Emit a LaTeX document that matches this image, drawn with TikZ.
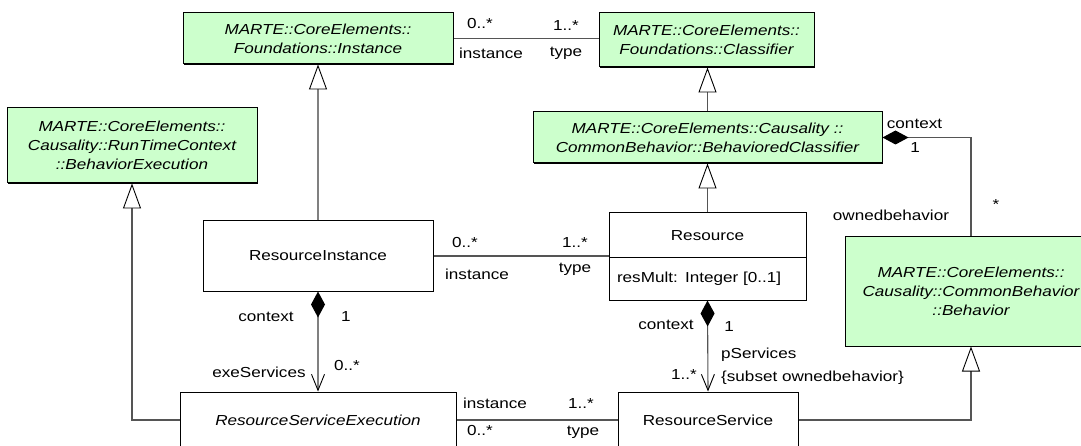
\documentclass[tikz,border=0pt]{standalone}
\usepackage{fontspec}
\setmainfont{Liberation Sans}[FakeStretch=1.18]
\usetikzlibrary{arrows.meta,positioning,calc,shadows}
\definecolor{clrG}{RGB}{204,255,204}
\definecolor{clrL}{RGB}{85,85,85}
\tikzset{
  cls/.style={rectangle,draw=black,line width=1pt,fill=white,align=center,inner sep=2pt,
    drop shadow={shadow xshift=1.3pt,shadow yshift=-1.3pt,fill=black,opacity=1}},
  ext/.style={cls,fill=clrG,font=\fontsize{14.5}{19}\selectfont\itshape},
  lbl/.style={inner sep=1pt},
  assoc/.style={draw=clrL,line width=1.1pt},
  thk/.style={draw=gray,line width=1.7pt},
  gen/.style={-{Triangle[open,fill=white,length=25pt,width=18pt,line width=0.9pt,color=black]}},
  comp/.style={{Diamond[length=26pt,width=14pt,color=black]}-{Straight Barb[length=16pt,width=13pt,line width=0.9pt,color=black]}}
}
\begin{document}
\begin{tikzpicture}[x=1pt,y=-1pt,font=\fontsize{14.5}{19}\selectfont]
  \useasboundingbox (0,0) rectangle (1081,446);
  \clip (0,0) rectangle (1081,446);
  % classes
  \node[ext,minimum width=270pt,minimum height=51pt] (inst) at (318,38.5)
    {MARTE::CoreElements::\\Foundations::Instance};
  \node[ext,minimum width=215pt,minimum height=54pt] (clsf) at (706.5,40)
    {MARTE::CoreElements::\\Foundations::Classifier};
  \node[ext,minimum width=349pt,minimum height=51pt] (bcls) at (707.5,137.5)
    {MARTE::CoreElements::Causality ::\\CommonBehavior::BehavioredClassifier};
  \node[ext,minimum width=250pt,minimum height=75pt] (bexec) at (132,145.5)
    {MARTE::CoreElements::\\Causality::RunTimeContext\\::BehaviorExecution};
  \node[ext,minimum width=252pt,minimum height=109pt] (behv) at (971,291.5)
    {MARTE::CoreElements::\\Causality::CommonBehavior\\::Behavior};
  \node[cls,minimum width=230pt,minimum height=70pt] (rinst) at (318,256) {ResourceInstance};
  \node[cls,minimum width=197pt,minimum height=45pt] (rname) at (707.5,235.5) {Resource};
  \node[cls,minimum height=42pt,text width=181pt,inner xsep=8pt,align=left,below=-1pt of rname]
    (rattr) {resMult: Integer [0..1]};
  \node[cls,minimum width=276pt,minimum height=56pt,font=\fontsize{14.5}{19}\selectfont\itshape]
    (rsexe) at (318,420) {ResourceServiceExecution};
  \node[cls,minimum width=180pt,minimum height=56pt] (rserv) at (708,420) {ResourceService};
  % connectors
  \draw[assoc] (inst.east) -- (inst.east -| clsf.west);
  \draw[thk,gen] (rinst.north) -- (inst.south);
  \draw[assoc,gen] (rsexe.west) -| (bexec.south);
  \draw[assoc,gen] (bcls.north) -- (bcls.north |- clsf.south);
  \draw[assoc,gen] (rname.north) -- (bcls.south);
  \draw[assoc,{Diamond[length=26pt,width=14pt,color=black]}-] (bcls.east) -| (behv.north);
  \draw[assoc] (rinst.east) -- (rinst.east -| rname.west);
  \draw[thk,comp] (rinst.south) -- (rsexe.north);
  \draw[assoc,comp] (rattr.south) -- (rserv.north);
  \draw[assoc] (rsexe.east) -- (rserv.west);
  \draw[assoc,gen] (rserv.east) -| (behv.south);
  % role names and multiplicities
  \node[lbl] (m1) at (480,24) {0..*};
  \node[lbl] (r1) at (491,53) {instance};
  \node[lbl] (m2) at (566,26) {1..*};
  \node[lbl] (r2) at (566,53) {type};
  \node[lbl] (m3) at (465,243) {0..*};
  \node[lbl] (r3) at (477,274) {instance};
  \node[lbl] (m4) at (575,243) {1..*};
  \node[lbl] (r4) at (575,269) {type};
  \node[lbl] (r5) at (266,317) {context};
  \node[lbl] (m5) at (346,317) {1};
  \node[lbl] (r6) at (259,372) {exeServices};
  \node[lbl] (m6) at (347,366) {0..*};
  \node[lbl] (r7) at (666,325) {context};
  \node[lbl] (m7) at (729,327) {1};
  \node[lbl,anchor=west] (r8) at (720,355) {pServices};
  \node[lbl,anchor=west] (r9) at (720,378) {\{subset ownedbehavior\}};
  \node[lbl] (m8) at (684,375) {1..*};
  \node[lbl] (r10) at (495,403) {instance};
  \node[lbl] (m9) at (480,431) {0..*};
  \node[lbl] (m10) at (581,404) {1..*};
  \node[lbl] (r11) at (583,432) {type};
  \node[lbl] (r12) at (914.5,124) {context};
  \node[lbl] (m11) at (915,148) {1};
  \node[lbl] (r13) at (891,215) {ownedbehavior};
  \node[lbl] (m12) at (996,205) {*};
\end{tikzpicture}
\end{document}
